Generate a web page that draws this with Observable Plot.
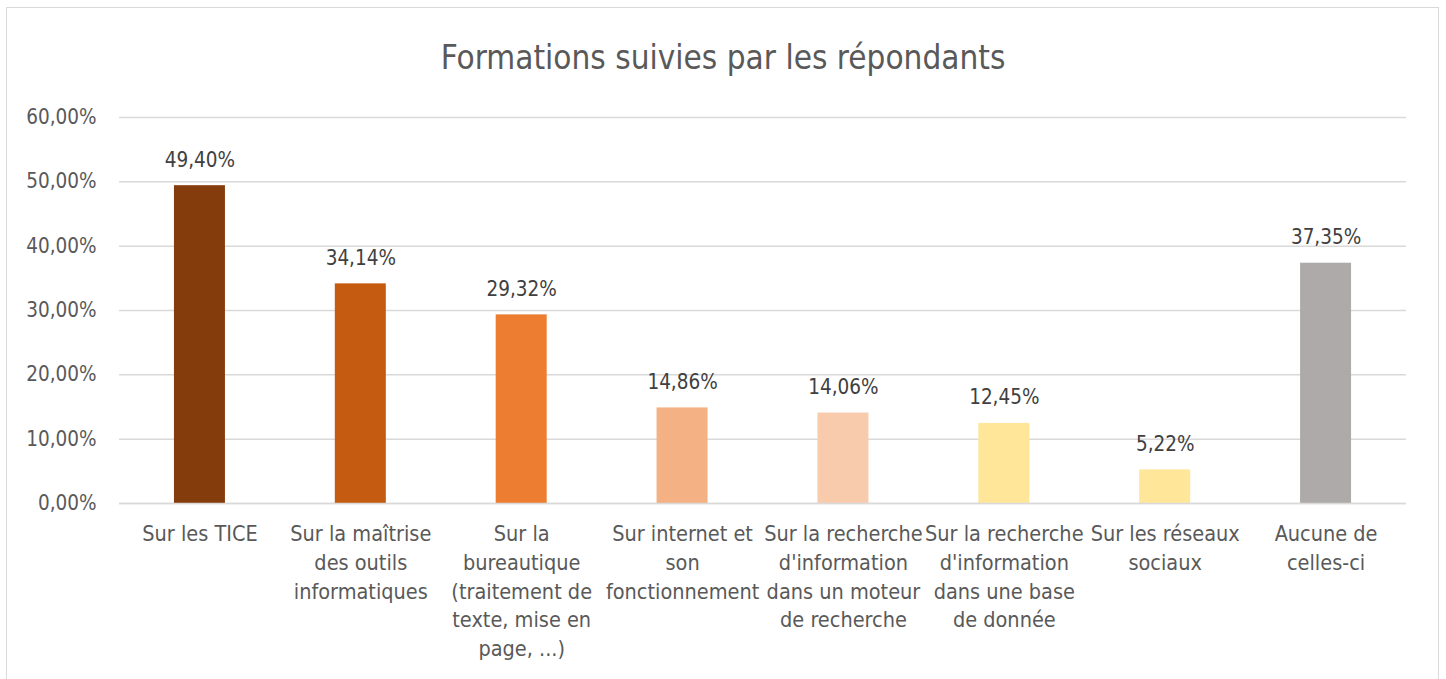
<!DOCTYPE html>
<html>
<head>
<meta charset="utf-8">
<script src="https://cdn.jsdelivr.net/npm/d3@7"></script>
<script src="https://cdn.jsdelivr.net/npm/@observablehq/plot@0.6"></script>
<style>
  html, body { margin: 0; padding: 0; background: #fff; }
  body { width: 1446px; height: 679px; overflow: hidden; position: relative;
         font-family: "Liberation Sans Narrow", "DejaVu Sans Condensed", "Liberation Sans", sans-serif; }
  #frame { position: absolute; left: 6px; top: 7px; width: 1433px; height: 700px;
           border: 1.5px solid #d9d9d9; box-sizing: border-box; }
  #title { position: absolute; left: 0; top: 38px; width: 1446px; text-align: center;
           font-size: 33px; color: #595959; line-height: 40px; }
  #chart { position: absolute; left: 0; top: 90px; }
</style>
</head>
<body>
<div id="frame"></div>
<div id="title">Formations suivies par les répondants</div>
<div id="chart"></div>
<script>
const categories = [
  "Sur les TICE",
  "Sur la maîtrise\ndes outils\ninformatiques",
  "Sur la\nbureautique\n(traitement de\ntexte, mise en\npage, ...)",
  "Sur internet et\nson\nfonctionnement",
  "Sur la recherche\nd'information\ndans un moteur\nde recherche",
  "Sur la recherche\nd'information\ndans une base\nde donnée",
  "Sur les réseaux\nsociaux",
  "Aucune de\ncelles-ci"
];
const values = [0.4940, 0.3414, 0.2932, 0.1486, 0.1406, 0.1245, 0.0522, 0.3735];
const barColors = ["#843c0c", "#c55a11", "#ed7d31", "#f4b183", "#f8cbad", "#ffe699", "#ffe699", "#aeaaaa"];
const yTicks = [0, 0.1, 0.2, 0.3, 0.4, 0.5, 0.6];

const data = categories.map((c, i) => ({cat: c, value: values[i]}));
const pct = d => (d * 100).toFixed(2).replace(".", ",") + "%";
const font = "'Liberation Sans Narrow', 'DejaVu Sans Condensed', 'Liberation Sans', sans-serif";

const chart = Plot.plot({
  width: 1446,
  height: 589,
  marginTop: 27,
  marginBottom: 176,
  marginLeft: 119,
  marginRight: 40,
  style: {fontFamily: font, fontSize: "19px", color: "#595959", background: "transparent"},
  x: {domain: categories, paddingInner: 0.683, paddingOuter: 0.3415, round: false, label: null},
  y: {domain: [0, 0.6], label: null},
  color: {domain: categories, range: barColors},
  marks: [
    Plot.gridY(yTicks, {stroke: "#d9d9d9", strokeOpacity: 1, strokeWidth: 1.5}),
    Plot.barY(data, {x: "cat", y: "value", fill: "cat"}),
    Plot.ruleY([0], {stroke: "#d9d9d9", strokeWidth: 1.5}),
    Plot.text(data, {x: "cat", y: "value", text: d => pct(d.value), lineAnchor: "bottom", dy: -19,
                     fill: "#404040", fontSize: 20.5}),
    Plot.axisY({ticks: yTicks, tickFormat: pct, tickSize: 0, tickPadding: 23, fontSize: 20.5, fill: "#595959"}),
    Plot.axisX({tickSize: 0, tickPadding: 17, fontSize: 21.5, lineHeight: 1.34, fill: "#595959"})
  ]
});
document.getElementById("chart").appendChild(chart);
</script>
</body>
</html>
